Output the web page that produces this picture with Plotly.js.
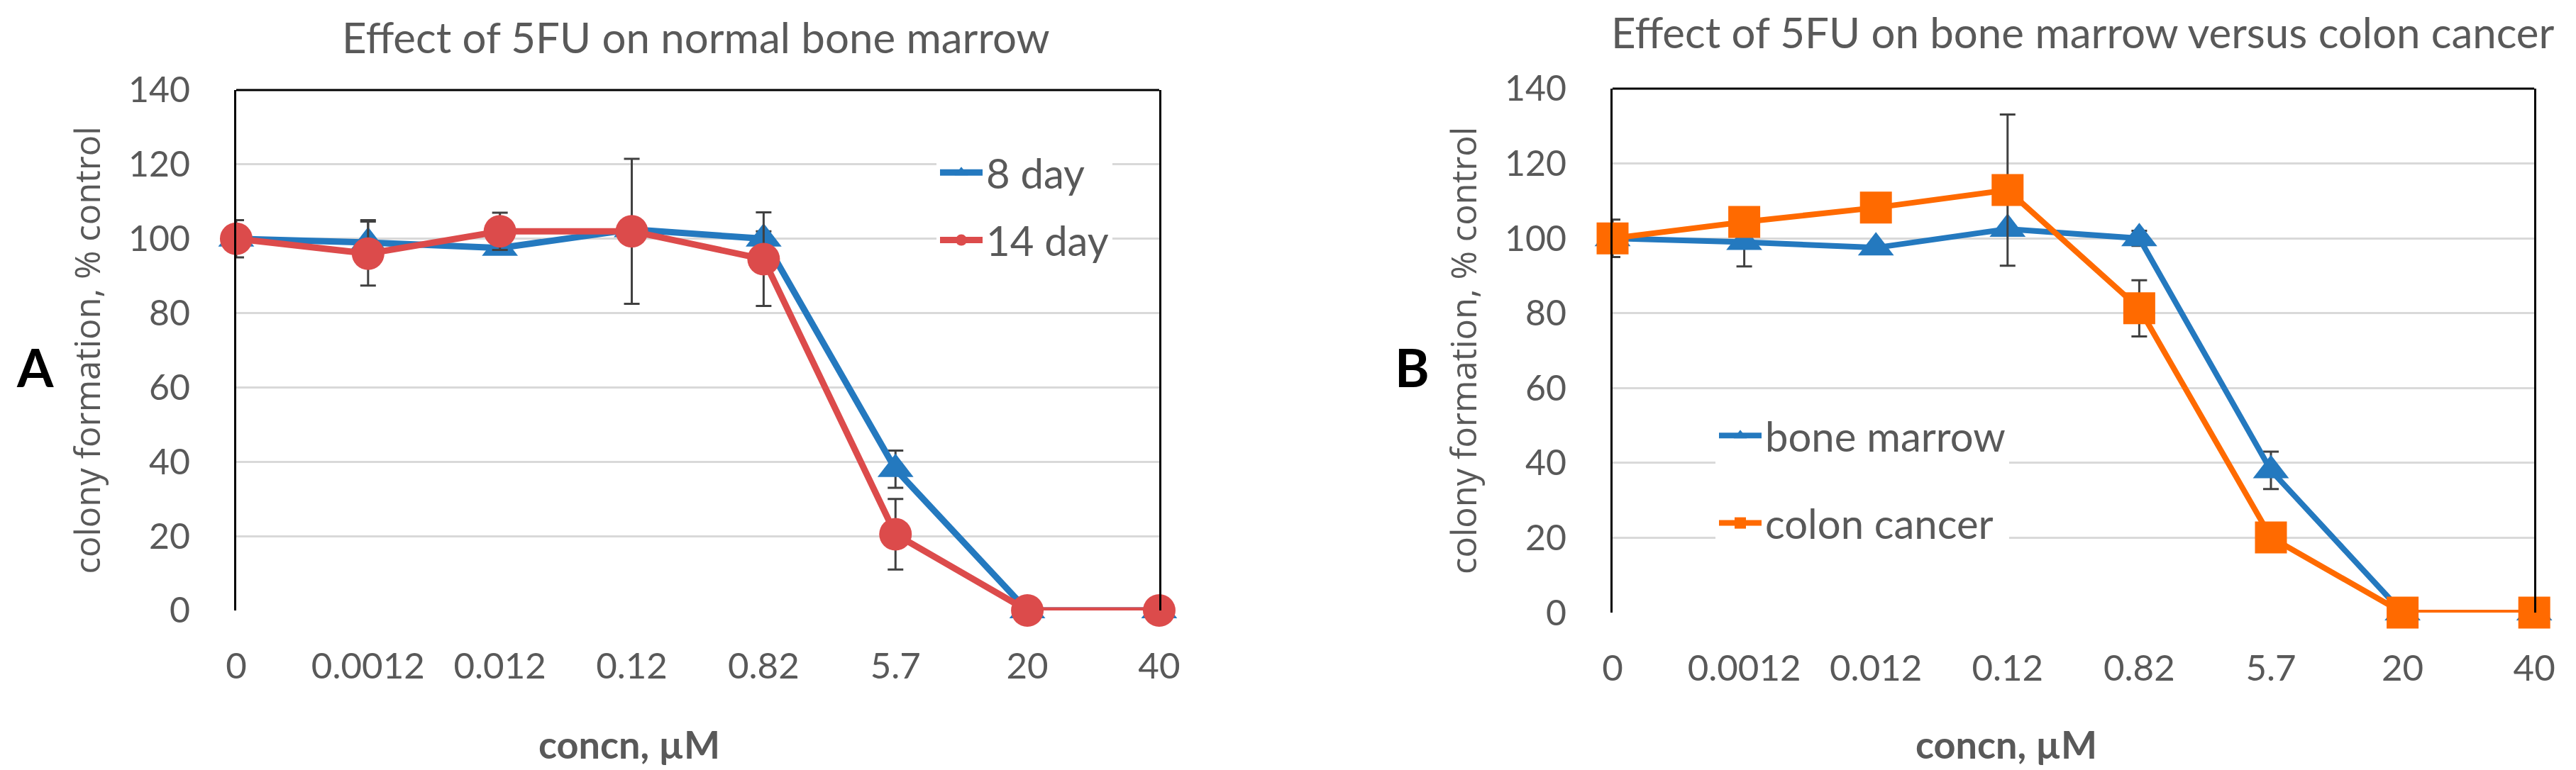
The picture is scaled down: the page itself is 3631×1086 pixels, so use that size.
<!DOCTYPE html>
<html>
<head>
<meta charset="utf-8">
<script src="https://cdn.plot.ly/plotly-3.0.1.min.js"></script>
<style>html,body{margin:0;padding:0;background:#fff;}#chart{width:3631px;height:1086px;}</style>
</head>
<body>
<div id="chart"></div>
<script>
// ---- data ----
const categories = ['0', '0.0012', '0.012', '0.12', '0.82', '5.7', '20', '40'];

// Panel A: normal bone marrow
const day8 = [100, 99, 97.5, 102.5, 100, 38, 0, 0];
const day8Err = [5, 6, null, null, 2, 5, null, null];
const day14 = [100, 96, 102, 102, 94.5, 20.5, 0, 0];
const day14Err = [null, 8.6, 5, 19.5, 12.6, 9.5, null, null];

// Panel B: bone marrow versus colon cancer
const boneMarrow = [100, 99, 97.5, 102.5, 100, 38, 0, 0];
const boneMarrowErr = [5, 6.5, null, null, 2, 5, null, null];
const colonCancer = [100, 104.4, 108.2, 112.9, 81.3, 20.1, 0, 0];
const colonCancerErr = [null, null, null, 20.2, 7.5, null, null, null];

const titleA = 'Effect of 5FU on normal bone marrow';
const titleB = 'Effect of 5FU on bone marrow versus colon cancer';
const yTitle = 'colony formation, % control';
const xTitle = 'concn, µM';

// ---- styling ----
const BLUE = '#2479BF';
const RED = '#DC4B4B';
const ORANGE = '#FF6A00';
const GREY = '#595959';
const EBAR = '#404040';
const FONT = 'Lato, "Liberation Sans", sans-serif';

function ebar(arr) {
  return {type: 'data', array: arr, visible: true, color: EBAR, thickness: 3, width: 11};
}

const traces = [
  {x: categories, y: day8, name: '8 day', xaxis: 'x', yaxis: 'y', legend: 'legend', legendgroup: 'a1',
   mode: 'lines+markers', cliponaxis: false,
   line: {color: BLUE, width: 9}, marker: {symbol: 'triangle-up', size: 44, color: BLUE},
   error_y: ebar(day8Err)},
  {x: categories, y: day14, name: '14 day', xaxis: 'x', yaxis: 'y', legend: 'legend', legendgroup: 'a2',
   mode: 'lines+markers', cliponaxis: false,
   line: {color: RED, width: 9}, marker: {symbol: 'circle', size: 46, color: RED},
   error_y: ebar(day14Err)},
  {x: categories, y: boneMarrow, name: 'bone marrow', xaxis: 'x2', yaxis: 'y2', legend: 'legend2', legendgroup: 'b1',
   mode: 'lines+markers', cliponaxis: false,
   line: {color: BLUE, width: 8}, marker: {symbol: 'triangle-up', size: 44, color: BLUE},
   error_y: ebar(boneMarrowErr)},
  {x: categories, y: colonCancer, name: 'colon cancer', xaxis: 'x2', yaxis: 'y2', legend: 'legend2', legendgroup: 'b2',
   mode: 'lines+markers', cliponaxis: false,
   line: {color: ORANGE, width: 8}, marker: {symbol: 'square', size: 45, color: ORANGE},
   error_y: ebar(colonCancerErr)}
];

function xax(domain, anchor) {
  return {
    domain: domain, anchor: anchor, type: 'category', range: [0, 7], autorange: false,
    showgrid: false, zeroline: false, showline: false, ticks: '',
    ticklabelstandoff: 44,
    tickfont: {family: FONT, size: 51, color: GREY}
  };
}
function yax(domain, anchor) {
  return {
    domain: domain, anchor: anchor, range: [0, 140], autorange: false, dtick: 20,
    showgrid: true, gridcolor: '#D9D9D9', gridwidth: 3, zeroline: false,
    showline: true, linecolor: '#000000', linewidth: 3, mirror: true, ticks: '',
    ticklabelstandoff: 52,
    tickfont: {family: FONT, size: 50, color: GREY},
    title: {text: yTitle, standoff: 24, font: {family: '"Open Sans", sans-serif', size: 49, color: GREY}}
  };
}

const layout = {
  width: 3631, height: 1086,
  margin: {l: 0, r: 0, t: 0, b: 0},
  paper_bgcolor: '#ffffff', plot_bgcolor: '#ffffff',
  showlegend: true,
  xaxis: xax([0.0917, 0.4500], 'y'),
  yaxis: yax([0.2072, 0.8831], 'x'),
  xaxis2: xax([0.6260, 0.9838], 'y2'),
  yaxis2: yax([0.2044, 0.8849], 'x2'),
  legend: {
    x: 1320 / 3631, y: 1 - 199 / 1086, xanchor: 'left', yanchor: 'top',
    bgcolor: '#ffffff', borderwidth: 0, traceorder: 'grouped', tracegroupgap: 17,
    font: {family: FONT, size: 58, color: GREY}, itemwidth: 60
  },
  legend2: {
    x: 2418 / 3631, y: 1 - 570 / 1086, xanchor: 'left', yanchor: 'top',
    bgcolor: '#ffffff', borderwidth: 0, traceorder: 'grouped', tracegroupgap: 45,
    font: {family: FONT, size: 58, color: GREY}, itemwidth: 60
  },
  shapes: [
    {type: 'line', xref: 'x domain', yref: 'y domain', x0: 0, x1: 1, y0: 1, y1: 1, line: {color: '#000', width: 3}},
    {type: 'line', xref: 'x2 domain', yref: 'y2 domain', x0: 0, x1: 1, y0: 1, y1: 1, line: {color: '#000', width: 3}}
  ],
  annotations: [
    {text: titleA, xref: 'paper', yref: 'paper', x: 981 / 3631, y: 1 - 52 / 1086, xanchor: 'center', yanchor: 'middle',
     showarrow: false, font: {family: FONT, size: 60, color: GREY}},
    {text: titleB, xref: 'paper', yref: 'paper', x: 2936 / 3631, y: 1 - 45 / 1086, xanchor: 'center', yanchor: 'middle',
     showarrow: false, font: {family: FONT, size: 60, color: GREY}},
    {text: '<b>' + xTitle + '</b>', xref: 'paper', yref: 'paper', x: 887 / 3631, y: 1 - 1049 / 1086, xanchor: 'center', yanchor: 'middle',
     showarrow: false, font: {family: FONT, size: 54, color: GREY}},
    {text: '<b>' + xTitle + '</b>', xref: 'paper', yref: 'paper', x: 2828 / 3631, y: 1 - 1049 / 1086, xanchor: 'center', yanchor: 'middle',
     showarrow: false, font: {family: FONT, size: 54, color: GREY}},
    {text: '<b>A</b>', xref: 'paper', yref: 'paper', x: 49 / 3631, y: 1 - 517 / 1086, xanchor: 'center', yanchor: 'middle',
     showarrow: false, font: {family: FONT, size: 74, color: '#000'}},
    {text: '<b>B</b>', xref: 'paper', yref: 'paper', x: 1990 / 3631, y: 1 - 517 / 1086, xanchor: 'center', yanchor: 'middle',
     showarrow: false, font: {family: FONT, size: 74, color: '#000'}}
  ]
};

Plotly.newPlot('chart', traces, layout, {staticPlot: true, displayModeBar: false});
</script>
</body>
</html>
